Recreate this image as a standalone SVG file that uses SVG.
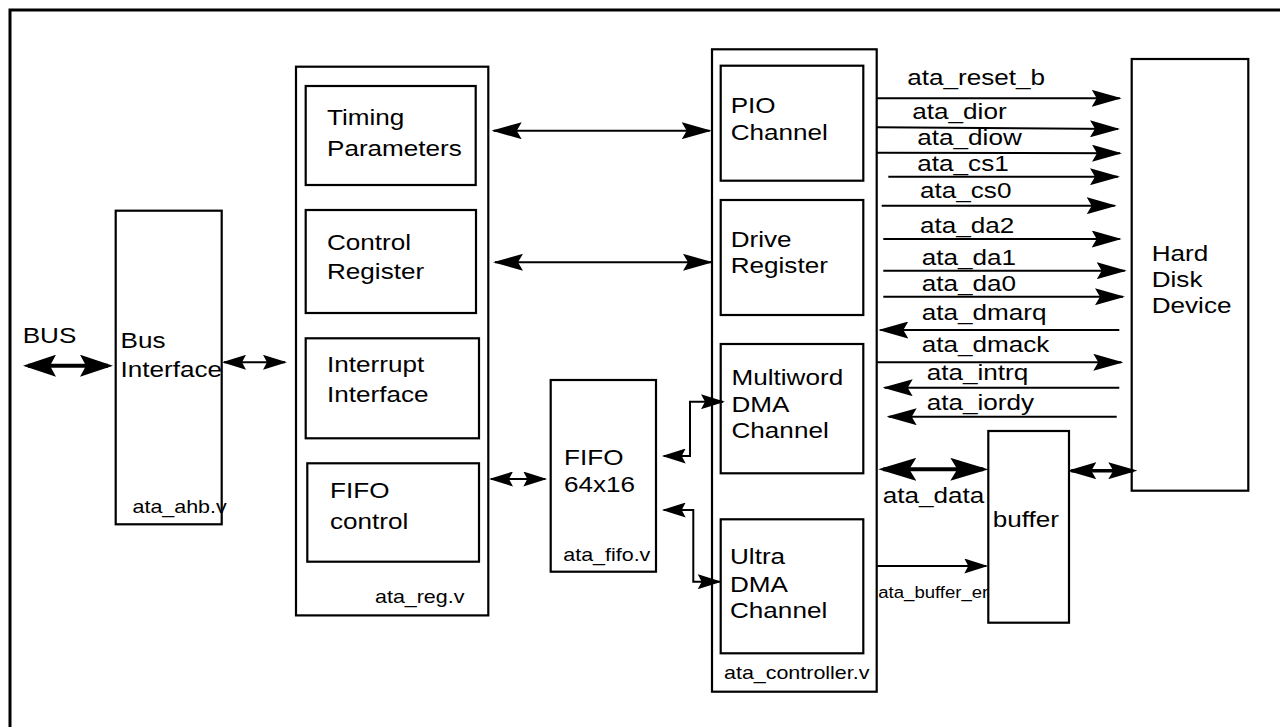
<svg xmlns="http://www.w3.org/2000/svg" width="1280" height="727" viewBox="0 0 1280 727">
<style>
.box{fill:none;stroke:#000;stroke-width:2.2}
.t{font-family:"Liberation Sans",Arial,Helvetica,sans-serif;font-size:22.5px;fill:#000}
.s{font-size:18.5px}
.xs{font-size:16px}
.ln{fill:none;stroke:#000;stroke-width:2}
</style>
<defs>
<marker id="m-sig" markerUnits="userSpaceOnUse" viewBox="0 0 30 17" refX="28" refY="8.5" markerWidth="30" markerHeight="17" orient="auto-start-reverse"><path d="M0,0 L30,8.5 L0,17 L5,8.5 z"/></marker>
<marker id="m-sm" markerUnits="userSpaceOnUse" viewBox="0 0 24 15" refX="22" refY="7.5" markerWidth="24" markerHeight="15" orient="auto-start-reverse"><path d="M0,0 L24,7.5 L0,15 L4,7.5 z"/></marker>
<marker id="m-bus" markerUnits="userSpaceOnUse" viewBox="0 0 33 22" refX="28" refY="11" markerWidth="33" markerHeight="22" orient="auto-start-reverse"><path d="M0,0 L33,11 L0,22 L6,11 z"/></marker>
<marker id="m-data" markerUnits="userSpaceOnUse" viewBox="0 0 38 23" refX="33" refY="11.5" markerWidth="38" markerHeight="23" orient="auto-start-reverse"><path d="M0,0 L38,11.5 L0,23 L7,11.5 z"/></marker>
<marker id="m-mid" markerUnits="userSpaceOnUse" viewBox="0 0 29 17" refX="25" refY="8.5" markerWidth="29" markerHeight="17" orient="auto-start-reverse"><path d="M0,0 L29,8.5 L0,17 L5,8.5 z"/></marker>
</defs>
<rect x="0" y="0" width="1280" height="727" fill="#fff"/>
<path d="M10,727 L10,10 L1280,10" fill="none" stroke="#000" stroke-width="3"/>

<g id="connectors">
  <!-- BUS -->
  <line x1="28" y1="365.7" x2="108" y2="365.7" stroke="#000" stroke-width="4" marker-start="url(#m-bus)" marker-end="url(#m-bus)"/>
  <text class="t" transform="translate(22.7,343) scale(1.16,1)">BUS</text>
  <!-- Bus interface to ata_reg -->
  <line class="ln" x1="224" y1="362.3" x2="285" y2="362.3" marker-start="url(#m-sm)" marker-end="url(#m-sm)"/>
  <!-- Timing <-> PIO -->
  <line class="ln" x1="493.7" y1="130.7" x2="709.7" y2="130.7" marker-start="url(#m-sig)" marker-end="url(#m-sig)"/>
  <!-- Control <-> Drive -->
  <line class="ln" x1="495" y1="262.3" x2="711" y2="262.3" marker-start="url(#m-sig)" marker-end="url(#m-sig)"/>
  <!-- ata_reg <-> FIFO -->
  <line class="ln" x1="491" y1="479" x2="545.3" y2="479" marker-start="url(#m-sm)" marker-end="url(#m-sm)"/>
  <!-- FIFO <-> Multiword -->
  <path class="ln" d="M663.7,456 L690,456 L690,401.7 L723,401.7" marker-start="url(#m-sm)" marker-end="url(#m-sm)"/>
  <!-- FIFO <-> Ultra -->
  <path class="ln" d="M663.7,510 L693.3,510 L693.3,581.7 L719.7,581.7" marker-start="url(#m-sm)" marker-end="url(#m-sm)"/>

  <!-- ATA signals -->
  <line class="ln" x1="877" y1="98.3" x2="1119.7" y2="98.3" marker-end="url(#m-sig)"/>
  <text class="t" transform="translate(907.3,85) scale(1.16,1)">ata_reset_b</text>
  <line class="ln" x1="877" y1="127.3" x2="1118" y2="129" stroke-width="1.5" marker-end="url(#m-sig)"/>
  <text class="t" transform="translate(912.3,119) scale(1.16,1)">ata_dior</text>
  <line class="ln" x1="877" y1="152.7" x2="1120" y2="153.3" marker-end="url(#m-sig)"/>
  <text class="t" transform="translate(917.3,145) scale(1.16,1)">ata_diow</text>
  <line class="ln" x1="888.3" y1="176.7" x2="1118" y2="176.7" marker-end="url(#m-sig)"/>
  <text class="t" transform="translate(917.3,171) scale(1.16,1)">ata_cs1</text>
  <line class="ln" x1="881.7" y1="205.7" x2="1114.7" y2="205.7" marker-end="url(#m-sig)"/>
  <text class="t" transform="translate(920,198.3) scale(1.16,1)">ata_cs0</text>
  <line class="ln" x1="883.3" y1="239" x2="1119.7" y2="239" marker-end="url(#m-sig)"/>
  <text class="t" transform="translate(920,233) scale(1.16,1)">ata_da2</text>
  <line class="ln" x1="883.3" y1="270.7" x2="1124.7" y2="270.7" marker-end="url(#m-sig)"/>
  <text class="t" transform="translate(921.7,265) scale(1.16,1)">ata_da1</text>
  <line class="ln" x1="883.3" y1="296.7" x2="1123" y2="296.7" marker-end="url(#m-sig)"/>
  <text class="t" transform="translate(921.7,290.7) scale(1.16,1)">ata_da0</text>
  <line class="ln" x1="1119.3" y1="330" x2="880.3" y2="330" marker-end="url(#m-sig)"/>
  <text class="t" transform="translate(921.7,320) scale(1.16,1)">ata_dmarq</text>
  <line class="ln" x1="877" y1="362.3" x2="1121.3" y2="362.3" marker-end="url(#m-sig)"/>
  <text class="t" transform="translate(921.7,351.7) scale(1.16,1)">ata_dmack</text>
  <line class="ln" x1="1119.3" y1="387.7" x2="884.7" y2="387.7" marker-end="url(#m-sig)"/>
  <text class="t" transform="translate(926.7,380) scale(1.16,1)">ata_intrq</text>
  <line class="ln" x1="1116.7" y1="416.7" x2="888.7" y2="416.7" marker-end="url(#m-sig)"/>
  <text class="t" transform="translate(926.7,410) scale(1.16,1)">ata_iordy</text>

  <!-- ata_data -->
  <line x1="883.3" y1="469.3" x2="983.3" y2="469.3" stroke="#000" stroke-width="4" marker-start="url(#m-data)" marker-end="url(#m-data)"/>
  <text class="t" transform="translate(882.7,503.3) scale(1.16,1)">ata_data</text>
  <!-- buffer <-> HDD -->
  <line x1="1071.3" y1="470.7" x2="1133.3" y2="470.7" stroke="#000" stroke-width="3.5" marker-start="url(#m-mid)" marker-end="url(#m-mid)"/>
  <!-- ata_buffer_en -->
  <line class="ln" x1="876.7" y1="566" x2="986.3" y2="566" marker-end="url(#m-sm)"/>
  <text class="t xs" transform="translate(878.3,598.3) scale(1.16,1)">ata_buffer_en</text>
</g>

<g id="bus_interface">
  <rect class="box" x="115.7" y="210.7" width="106" height="313.6"/>
  <text class="t" transform="translate(120.5,348) scale(1.16,1)"><tspan x="0" y="0">Bus</tspan><tspan x="0" y="29">Interface</tspan></text>
  <text class="t s" transform="translate(132.5,513) scale(1.16,1)">ata_ahb.v</text>
</g>

<g id="ata_reg">
  <rect class="box" x="296" y="66.7" width="192.3" height="548.7"/>
  <text class="t s" transform="translate(375,603.3) scale(1.16,1)">ata_reg.v</text>
</g>
<g id="timing_parameters">
  <rect class="box" x="305.7" y="86" width="170" height="99"/>
  <text class="t" transform="translate(327,125) scale(1.16,1)"><tspan x="0" y="0">Timing</tspan><tspan x="0" y="31.5">Parameters</tspan></text>
</g>
<g id="control_register">
  <rect class="box" x="305.7" y="210" width="170.3" height="103"/>
  <text class="t" transform="translate(327,250) scale(1.16,1)"><tspan x="0" y="0">Control</tspan><tspan x="0" y="29">Register</tspan></text>
</g>
<g id="interrupt_interface">
  <rect class="box" x="305.7" y="338.3" width="173.3" height="100"/>
  <text class="t" transform="translate(327,371.7) scale(1.16,1)"><tspan x="0" y="0">Interrupt</tspan><tspan x="0" y="30">Interface</tspan></text>
</g>
<g id="fifo_control">
  <rect class="box" x="307.3" y="463.3" width="171.7" height="98.4"/>
  <text class="t" transform="translate(330,498.3) scale(1.16,1)"><tspan x="0" y="0">FIFO</tspan><tspan x="0" y="31">control</tspan></text>
</g>

<g id="fifo">
  <rect class="box" x="550.7" y="380" width="105.3" height="191.7"/>
  <text class="t" transform="translate(564,465) scale(1.16,1)"><tspan x="0" y="0">FIFO</tspan><tspan x="0" y="26.7">64x16</tspan></text>
  <text class="t s" transform="translate(563.3,560.7) scale(1.16,1)">ata_fifo.v</text>
</g>

<g id="ata_controller">
  <rect class="box" x="712" y="49.3" width="164.7" height="642.4"/>
  <text class="t s" transform="translate(724,679) scale(1.16,1)">ata_controller.v</text>
</g>
<g id="pio_channel">
  <rect class="box" x="720.7" y="65.7" width="142.6" height="115"/>
  <text class="t" transform="translate(730.7,113.3) scale(1.16,1)"><tspan x="0" y="0">PIO</tspan><tspan x="0" y="26.7">Channel</tspan></text>
</g>
<g id="drive_register">
  <rect class="box" x="720.7" y="200" width="142.6" height="115"/>
  <text class="t" transform="translate(730.7,246.7) scale(1.16,1)"><tspan x="0" y="0">Drive</tspan><tspan x="0" y="26.7">Register</tspan></text>
</g>
<g id="multiword_dma">
  <rect class="box" x="720.7" y="344" width="142.6" height="129.3"/>
  <text class="t" transform="translate(731.5,385) scale(1.16,1)"><tspan x="0" y="0">Multiword</tspan><tspan x="0" y="26.7">DMA</tspan><tspan x="0" y="53.3">Channel</tspan></text>
</g>
<g id="ultra_dma">
  <rect class="box" x="720.7" y="519.3" width="142.6" height="134"/>
  <text class="t" transform="translate(730,564.3) scale(1.16,1)"><tspan x="0" y="0">Ultra</tspan><tspan x="0" y="27.4">DMA</tspan><tspan x="0" y="54">Channel</tspan></text>
</g>

<g id="hard_disk">
  <rect class="box" x="1131.7" y="59" width="116.6" height="431.7"/>
  <text class="t" transform="translate(1151.7,260.7) scale(1.16,1)"><tspan x="0" y="0">Hard</tspan><tspan x="0" y="26.6">Disk</tspan><tspan x="0" y="52.6">Device</tspan></text>
</g>

<g id="buffer">
  <rect class="box" x="988.3" y="431" width="80.7" height="191.7" fill="#fff" style="fill:#fff"/>
  <text class="t" transform="translate(992.7,526.7) scale(1.16,1)">buffer</text>
</g>
</svg>
